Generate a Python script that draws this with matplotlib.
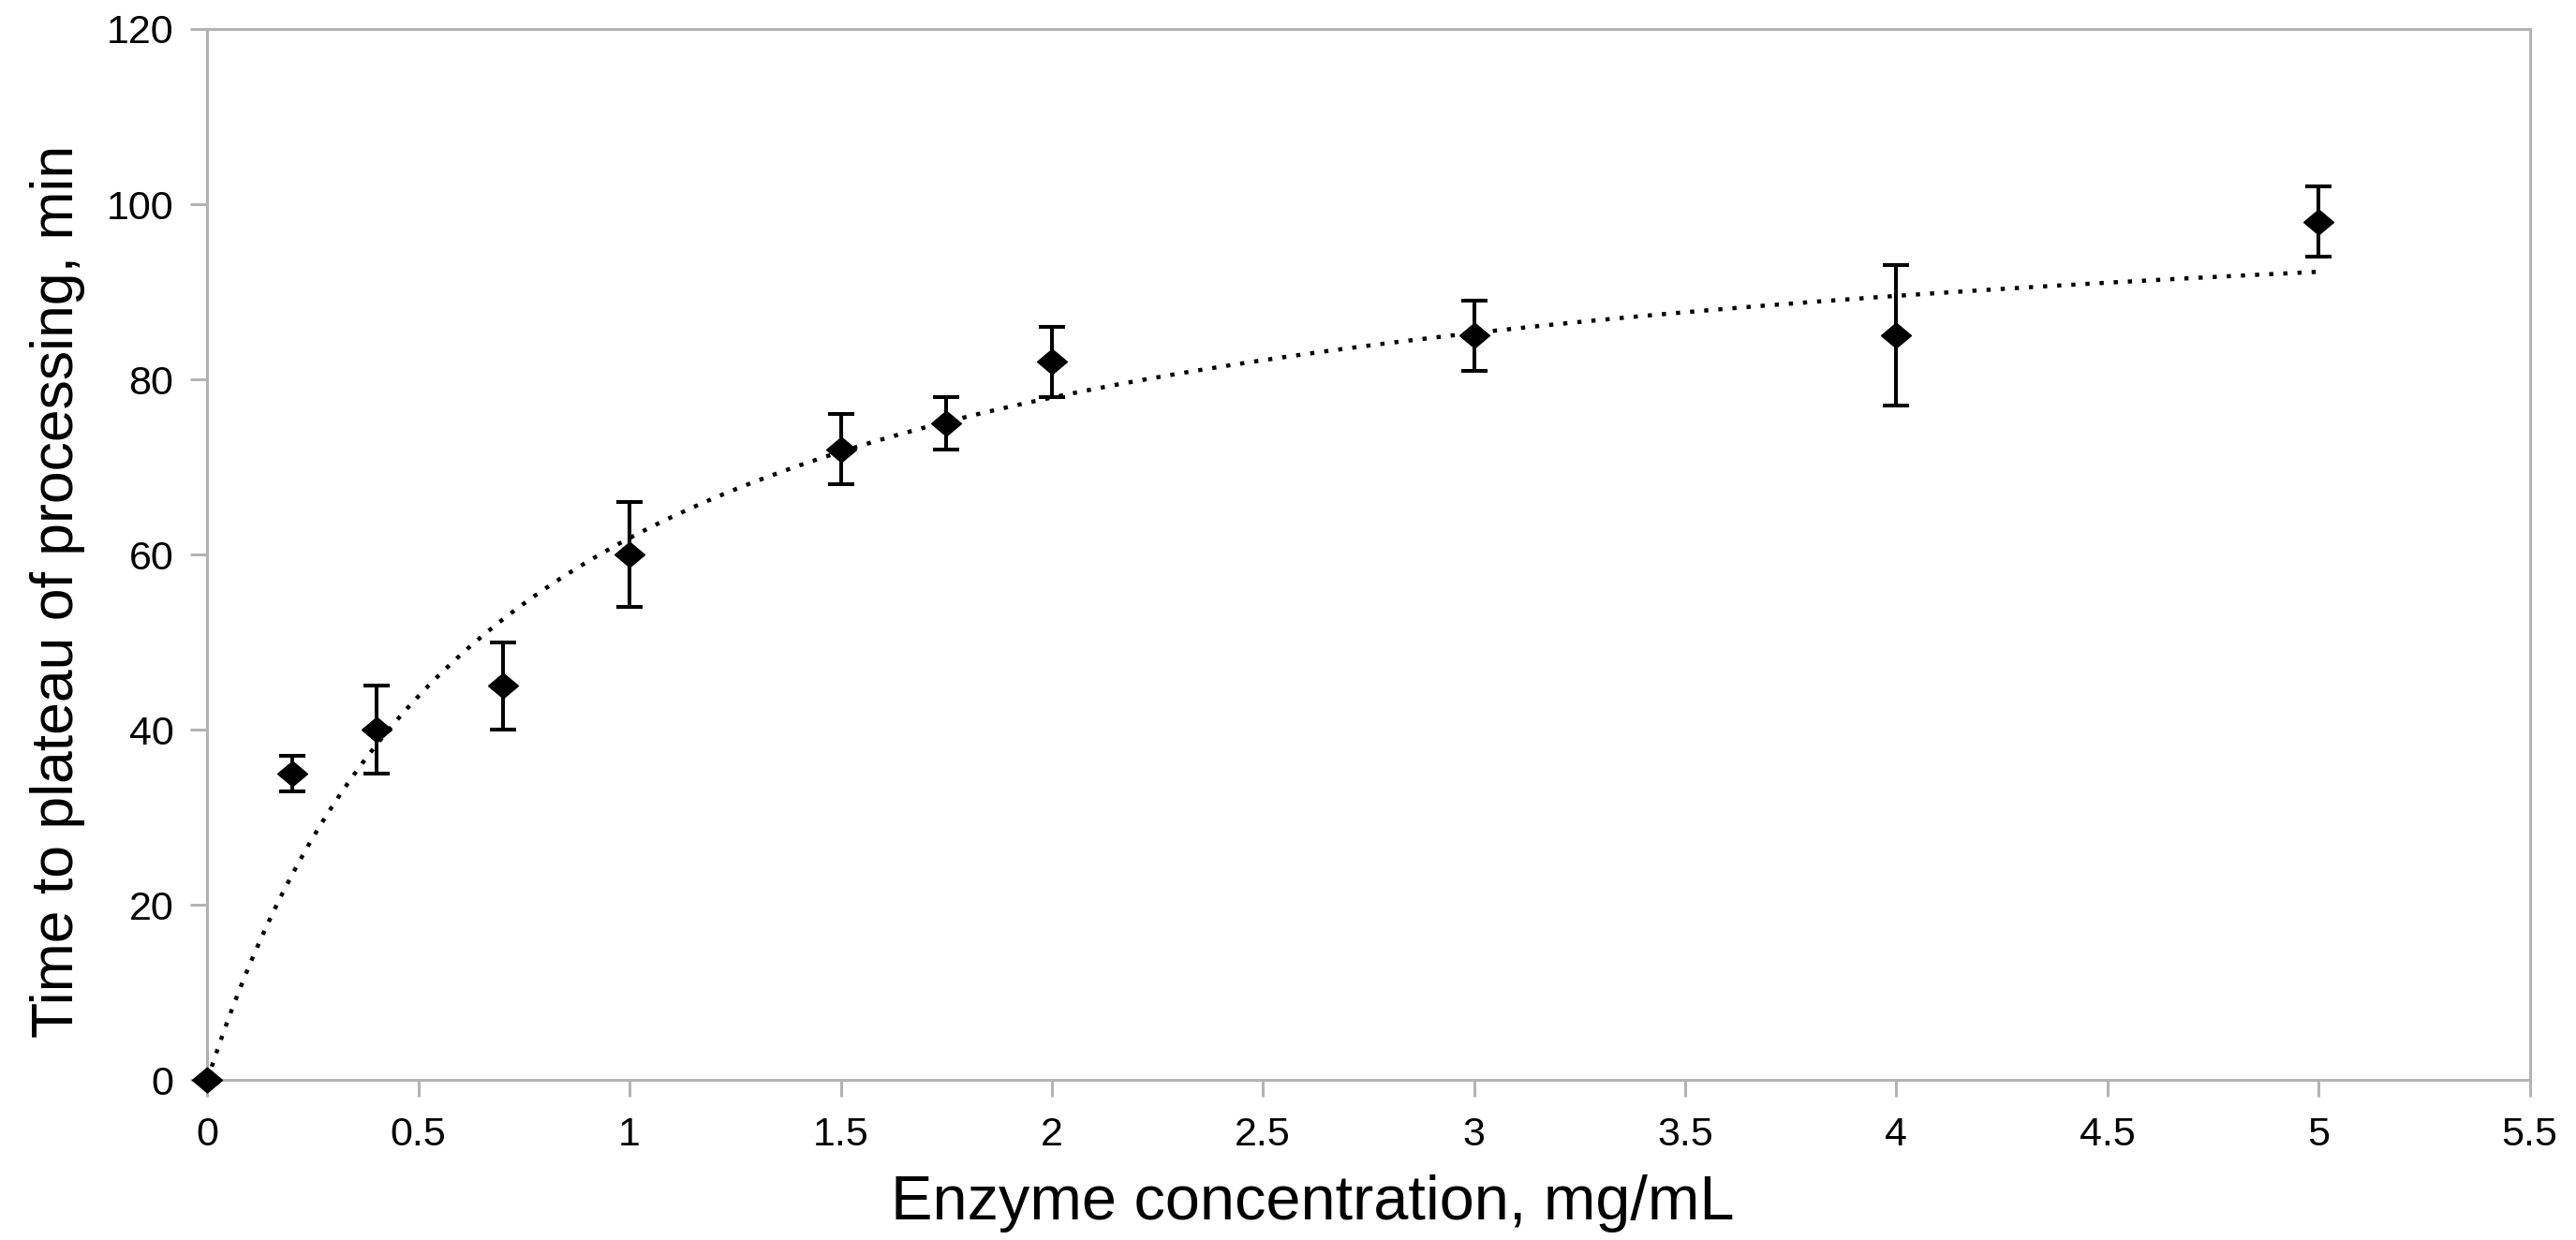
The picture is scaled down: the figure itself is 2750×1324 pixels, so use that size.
import numpy as np
import matplotlib
matplotlib.use("Agg")
import matplotlib.pyplot as plt
from matplotlib.ticker import FuncFormatter

enzyme_conc = [0, 0.2, 0.4, 0.7, 1, 1.5, 1.75, 2, 3, 4, 5]
time_plateau = [0, 35, 40, 45, 60, 72, 75, 82, 85, 85, 98]
time_err = [0, 2, 5, 5, 6, 4, 3, 4, 4, 8, 4]

# trendline (saturation curve) parameters
trend_vmax = 105.2
trend_km = 0.70
trend_x_end = 5

x_ticks = [0, 0.5, 1, 1.5, 2, 2.5, 3, 3.5, 4, 4.5, 5, 5.5]
y_ticks = [0, 20, 40, 60, 80, 100, 120]

plt.rcParams['font.family'] = ['Liberation Sans', 'DejaVu Sans']

GRAY = "#b3b3b3"
# slightly flattened diamond, like the reference markers
DIAMOND = [(-1, 0), (0, 0.84), (1, 0), (0, -0.84), (-1, 0)]

fig = plt.figure(figsize=(27.5, 13.24), dpi=100)
ax = fig.add_axes([0.0805, 0.129, 0.9015, 0.8476])

# trendline
tx = np.linspace(0, trend_x_end, 400)
ty = trend_vmax * tx / (trend_km + tx)
ax.plot(tx, ty, color="black", linewidth=3.2, linestyle=(0, (1, 2.4)), zorder=2)

# data with error bars
ax.errorbar(enzyme_conc, time_plateau, yerr=time_err, fmt="none",
            elinewidth=2.9, capsize=10.4, capthick=2.9,
            ecolor="black", zorder=3, clip_on=False)
ax.plot(enzyme_conc, time_plateau, linestyle="none", marker=DIAMOND,
        markersize=23, color="black", zorder=4, clip_on=False)

ax.set_xlim(0, 5.5)
ax.set_ylim(0, 120)
ax.set_xticks(x_ticks)
ax.set_yticks(y_ticks)
ax.xaxis.set_major_formatter(FuncFormatter(lambda v, p: "%g" % v))

for s in ax.spines.values():
    s.set_color(GRAY)
    s.set_linewidth(2.2)

ax.tick_params(axis="both", direction="out", length=13, width=2.2, color=GRAY,
               labelsize=31, labelcolor="black")
ax.tick_params(axis="x", pad=15)
ax.tick_params(axis="y", pad=13)

ax.set_xlabel("Enzyme concentration, mg/mL", fontsize=48)
ax.set_ylabel("Time to plateau of processing, min", fontsize=45)
ax.xaxis.set_label_coords(0.476, -0.09)
ax.yaxis.set_label_coords(-0.0525, 0.465)

fig.savefig("out.png", dpi=100, facecolor="white")
